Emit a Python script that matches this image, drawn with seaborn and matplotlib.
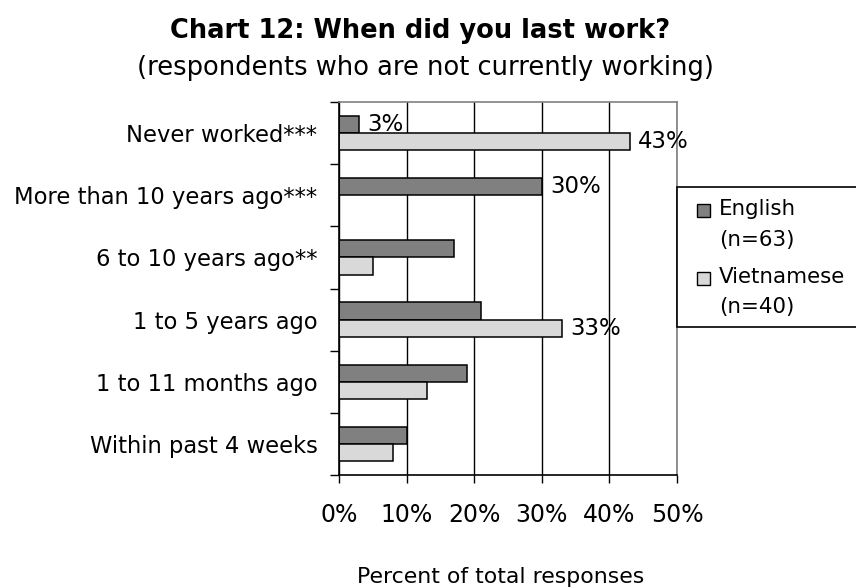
import matplotlib
matplotlib.use("Agg")
import matplotlib.pyplot as plt
import seaborn as sns
import pandas as pd
from matplotlib.patches import Rectangle, Patch
from matplotlib.legend_handler import HandlerPatch

categories = ["Never worked***", "More than 10 years ago***", "6 to 10 years ago**",
              "1 to 5 years ago", "1 to 11 months ago", "Within past 4 weeks"]
english = [3, 30, 17, 21, 19, 10]
vietnamese = [43, 0, 5, 33, 13, 8]
series = ["English", "Vietnamese"]
legend_labels = ["English\n(n=63)", "Vietnamese\n(n=40)"]
labels_shown = {("English", "Never worked***"): "3%",
                ("Vietnamese", "Never worked***"): "43%",
                ("English", "More than 10 years ago***"): "30%",
                ("Vietnamese", "1 to 5 years ago"): "33%"}
xticks = [0, 10, 20, 30, 40, 50]

df = pd.DataFrame({
    "category": categories * 2,
    "series": ["English"] * len(categories) + ["Vietnamese"] * len(categories),
    "value": english + vietnamese,
})

sns.set_style("white")
plt.rcParams['font.family'] = ['DejaVu Sans']
plt.rcParams.update({"text.color": "black", "axes.labelcolor": "black",
                     "xtick.color": "black", "ytick.color": "black"})
colors = {"English": "#808080", "Vietnamese": "#d9d9d9"}

fig = plt.figure(figsize=(8.56, 5.88), dpi=100)
ax = fig.add_axes([339/856, 1-475/588, (677-339)/856, (475-102)/588])

sns.barplot(data=df, y="category", x="value", hue="series", order=categories,
            hue_order=series, palette=colors, orient="h", width=0.55,
            edgecolor="black", linewidth=1.1, ax=ax, legend=False, saturation=1)

ax.set_xlim(0, 50)
ax.set_ylim(len(categories) - 0.5, -0.5)
ax.set_xticks(xticks)
ax.set_xticklabels([f"{t}%" for t in xticks], fontsize=17)
ax.tick_params(axis="x", pad=14, length=5.8, width=1, direction="out", bottom=True)
ax.set_yticks(range(len(categories)))
ax.set_yticklabels(categories, fontsize=16.3)
ax.tick_params(axis="y", which="major", length=0, pad=15.5)
ax.set_yticks([i - 0.5 for i in range(len(categories) + 1)], minor=True)
ax.tick_params(axis="y", which="minor", length=6.5, width=1, direction="out", left=True)
ax.grid(axis="x", color="black", lw=1)
ax.set_axisbelow(True)
ax.set_xlabel("Percent of total responses", fontsize=15.8)
ax.xaxis.set_label_coords((501 - 339) / 338, (475 - 577) / 373)
ax.xaxis.label.set_va("center")
ax.set_ylabel("")
for s in ["left", "bottom"]:
    ax.spines[s].set_color("black")
    ax.spines[s].set_linewidth(1.2)
for s in ["top", "right"]:
    ax.spines[s].set_color("#808080")
    ax.spines[s].set_linewidth(1.2)

# value labels
for ci, cont in enumerate(ax.containers):
    s = series[ci]
    for bar, cat in zip(cont, categories):
        key = (s, cat)
        if key in labels_shown:
            ax.annotate(labels_shown[key],
                        (bar.get_width(), bar.get_y() + bar.get_height() / 2),
                        xytext=(6, 0), textcoords="offset points",
                        va="center", ha="left", fontsize=16.5, annotation_clip=False)

fig.text(420/856, 1-38/588, "Chart 12: When did you last work?", ha="center", va="baseline",
         fontsize=18.5, fontweight="bold")
fig.text(425/856, 1-75/588, "(respondents who are not currently working)", ha="center",
         va="baseline", fontsize=18.5)

# legend box
fig.patches.append(Rectangle((677/856, 1-327/588), 220/856, (327-187)/588,
                             transform=fig.transFigure, facecolor="white",
                             edgecolor="black", lw=1.2, clip_on=False, zorder=3))


def top_square(legend, orig_handle, xdescent, ydescent, width, height, fontsize):
    sq = width
    return Rectangle((-xdescent, -ydescent + height - sq + 1.3), sq, sq)


handles = [Patch(facecolor=colors[s], edgecolor="black", lw=1) for s in series]
leg = fig.legend(handles, legend_labels, loc="upper left",
                 bbox_to_anchor=(697/856, 1-199/588),
                 frameon=False, fontsize=15.4, handlelength=0.62, handleheight=2.5,
                 handletextpad=0.4, labelspacing=0.8, borderaxespad=0, borderpad=0,
                 handler_map={Patch: HandlerPatch(patch_func=top_square)})
leg.set_zorder(4)
for t in leg.get_texts():
    t.set_linespacing(1.66)

fig.savefig("out.png", dpi=100)
